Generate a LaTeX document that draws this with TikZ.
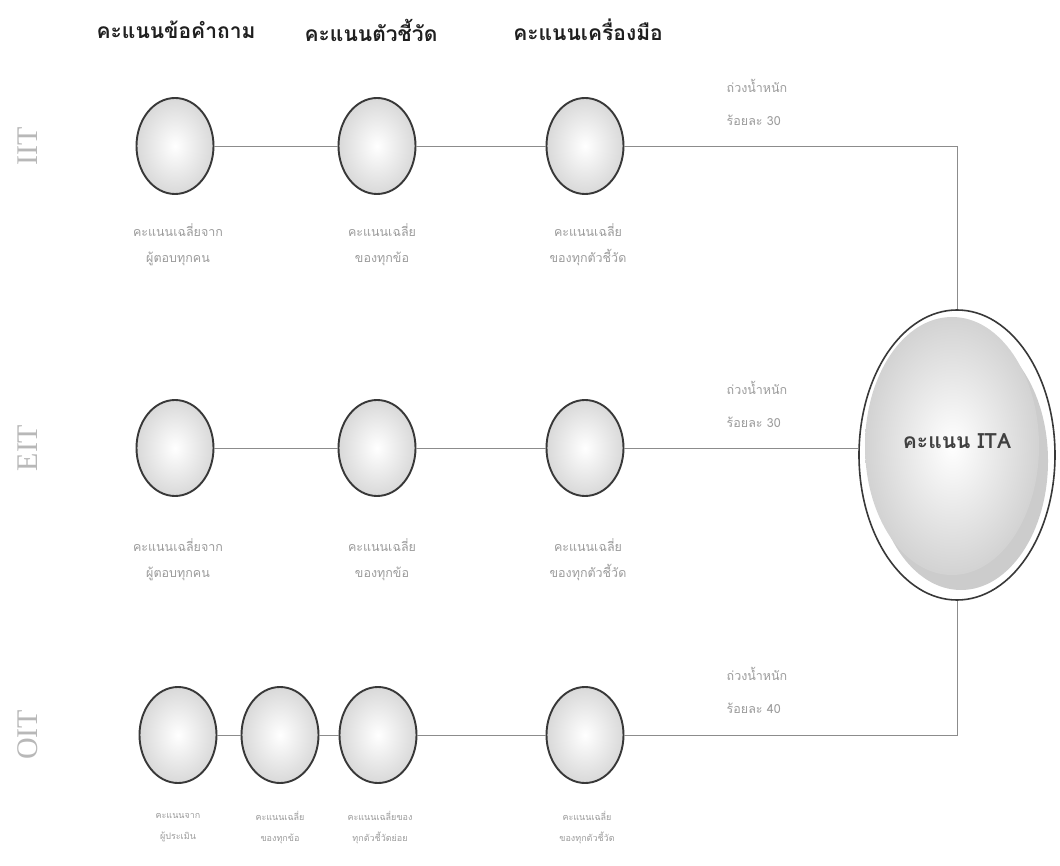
\documentclass[tikz,border=0pt]{standalone}
\usepackage{fontspec}
\newfontfamily\thai[Script=Thai]{Loma}
\newfontfamily\latinserif{Liberation Serif}
\usetikzlibrary{shapes.geometric,calc}
\definecolor{linegray}{HTML}{8C8C8C}
\definecolor{labelgray}{HTML}{9C9C9C}
\definecolor{sidegray}{HTML}{B8B8B8}
\definecolor{rimdark}{HTML}{383838}
\begin{document}
\begin{tikzpicture}[x=1pt,y=-1pt,
  bead/.style={ellipse, draw=rimdark, line width=1.9pt, minimum width=77pt, minimum height=96pt,
               inner sep=0pt, inner color=white, outer color=gray!30},
  link/.style={draw=linegray, line width=0.8pt},
  heading/.style={font=\thai\bfseries\fontsize{21}{24}\selectfont, text=black!88},
  note/.style={font=\thai\fontsize{12.5}{26}\selectfont, text=labelgray, align=center},
  tinynote/.style={font=\thai\fontsize{9}{21}\selectfont, text=labelgray, align=center},
  weight/.style={font=\thai\fontsize{12.5}{33}\selectfont, text=labelgray, align=left},
  side/.style={font=\latinserif\fontsize{30}{30}\selectfont, text=sidegray, rotate=90}
]
\useasboundingbox (0,0) rectangle (1060,866);
\fill[white] (0,0) rectangle (1060,866);

% column headings
\node[heading] (h1) at (176,30) {คะแนนข้อคำถาม};
\node[heading] (h2) at (371,30) {คะแนนตัวชี้วัด};
\node[heading] (h3) at (588,30) {คะแนนเครื่องมือ};

% row names
\node[side] (iit) at (28,146) {IIT};
\node[side] (eit) at (28,448) {EIT};
\node[side] (oit) at (28,735) {OIT};

% total score
\node[ellipse, draw=rimdark, line width=1.6pt, fill=white, minimum width=196pt, minimum height=290pt] (ita) at (957,455) {};
\fill[gray!40] (961,461) ellipse [x radius=87, y radius=129];
\shade[inner color=white, outer color=gray!35] (952,446) ellipse [x radius=87, y radius=129];
\node[font=\thai\bfseries\fontsize{21}{24}\selectfont, text=black!75] (itatext) at (957,441) {คะแนน ITA};

% IIT row
\node[bead] (q1) at (175,146) {};
\node[bead] (q2) at (377,146) {};
\node[bead] (q3) at (585,146) {};
\node[note] (q1l) at (178,245) {คะแนนเฉลี่ยจาก\\ผู้ตอบทุกคน};
\node[note] (q2l) at (382,245) {คะแนนเฉลี่ย\\ของทุกข้อ};
\node[note] (q3l) at (588,245) {คะแนนเฉลี่ย\\ของทุกตัวชี้วัด};
\node[weight] (qw) at (757,102) {ถ่วงน้ำหนัก\\ร้อยละ 30};

% EIT row
\node[bead] (e1) at (175,448) {};
\node[bead] (e2) at (377,448) {};
\node[bead] (e3) at (585,448) {};
\node[note] (e1l) at (178,560) {คะแนนเฉลี่ยจาก\\ผู้ตอบทุกคน};
\node[note] (e2l) at (382,560) {คะแนนเฉลี่ย\\ของทุกข้อ};
\node[note] (e3l) at (588,560) {คะแนนเฉลี่ย\\ของทุกตัวชี้วัด};
\node[weight] (ew) at (757,404) {ถ่วงน้ำหนัก\\ร้อยละ 30};

% OIT row
\node[bead] (o1) at (178,735) {};
\node[bead] (o2) at (280,735) {};
\node[bead] (o3) at (378,735) {};
\node[bead] (o4) at (585,735) {};
\node[tinynote] (o1l) at (178,828) {คะแนนจาก\\ผู้ประเมิน};
\node[tinynote] (o2l) at (280,828) {คะแนนเฉลี่ย\\ของทุกข้อ};
\node[tinynote] (o3l) at (380,828) {คะแนนเฉลี่ยของ\\ทุกตัวชี้วัดย่อย};
\node[tinynote] (o4l) at (587,828) {คะแนนเฉลี่ย\\ของทุกตัวชี้วัด};
\node[weight] (ow) at (757,690) {ถ่วงน้ำหนัก\\ร้อยละ 40};

% connectors
\coordinate (iitbend) at (ita.north |- q3.east);
\coordinate (oitbend) at (ita.south |- o4.east);
\draw[link] (q1) -- (q2);
\draw[link] (q2) -- (q3);
\draw[link] (q3.east) -- (iitbend) -- (ita.north);
\draw[link] (e1) -- (e2);
\draw[link] (e2) -- (e3);
\draw[link] (e3.east) -- (e3.east -| ita.west);
\draw[link] (o1) -- (o2);
\draw[link] (o2) -- (o3);
\draw[link] (o3) -- (o4);
\draw[link] (o4.east) -- (oitbend) -- (ita.south);
\end{tikzpicture}
\end{document}
